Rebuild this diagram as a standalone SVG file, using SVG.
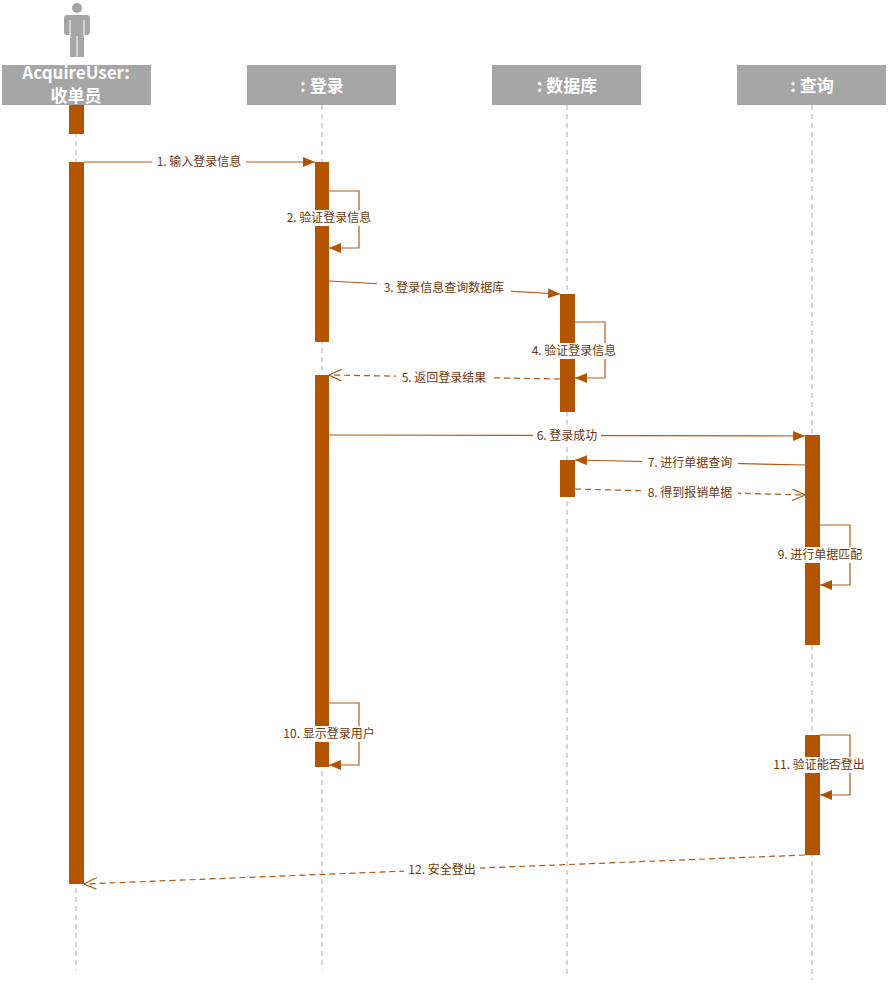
<svg xmlns="http://www.w3.org/2000/svg" width="889" height="1001" viewBox="0 0 889 1001">
<style>
.hdr{fill:#a6a6a6}
.ht{font-family:"Noto Sans CJK SC","Liberation Sans",sans-serif;font-size:17px;font-weight:bold;fill:#fff;text-anchor:middle}
.life{stroke:#b0b0b0;stroke-width:1;stroke-dasharray:5,4;fill:none}
.act{fill:#b35400}
.m{stroke:#b05a18;stroke-width:1.2;fill:none}
.d{stroke-dasharray:6,4}
.lb{font-family:"Noto Sans CJK SC","Liberation Sans",sans-serif;font-size:12px;fill:#6e3a12;text-anchor:middle}
.bg{fill:#fff}
</style>
<defs>
<marker id="f" markerWidth="12" markerHeight="10" refX="12" refY="5" orient="auto" markerUnits="userSpaceOnUse"><path d="M0,0L12,5L0,10Z" fill="#b35400"/></marker>
<marker id="o" markerWidth="13" markerHeight="12" refX="13" refY="6" orient="auto" markerUnits="userSpaceOnUse"><path d="M0,0L13,6L0,12" fill="none" stroke="#b05a18" stroke-width="1.2"/></marker>
</defs>
<g id="lifelines">
<line class="life" x1="76" y1="105" x2="76" y2="970"/>
<line class="life" x1="322" y1="105" x2="322" y2="970"/>
<line class="life" x1="567" y1="105" x2="567" y2="975"/>
<line class="life" x1="812" y1="105" x2="812" y2="980"/>
</g>
<g id="user">
<circle cx="77" cy="8" r="5" fill="#a6a6a6"/>
<rect x="64" y="15" width="26" height="20" rx="3" fill="#a6a6a6"/>
<rect x="70" y="15" width="14" height="42" fill="#a6a6a6"/>
<line x1="70" y1="20" x2="70" y2="38" stroke="#fff" stroke-width="1"/>
<line x1="84" y1="20" x2="84" y2="38" stroke="#fff" stroke-width="1"/>
<line x1="77" y1="36" x2="77" y2="57" stroke="#fff" stroke-width="1"/>
<rect class="hdr" x="2" y="65" width="149" height="40"/>
<text class="ht" x="76" y="79">AcquireUser:</text>
<text class="ht" x="76" y="102">收单员</text>
</g>
<g id="login"><rect class="hdr" x="247" y="65" width="149" height="40"/><text class="ht" x="322" y="92">: 登录</text></g>
<g id="db"><rect class="hdr" x="492" y="65" width="149" height="40"/><text class="ht" x="567" y="92">: 数据库</text></g>
<g id="query"><rect class="hdr" x="737" y="65" width="149" height="40"/><text class="ht" x="812" y="92">:  查询</text></g>
<g id="activations">
<rect class="act" x="69" y="105" width="15" height="29"/>
<rect class="act" x="69" y="162" width="15" height="722"/>
<rect class="act" x="315" y="162" width="14" height="180"/>
<rect class="act" x="315" y="375" width="14" height="392"/>
<rect class="act" x="560" y="294" width="15" height="118"/>
<rect class="act" x="560" y="460" width="15" height="37"/>
<rect class="act" x="805" y="435" width="15" height="210"/>
<rect class="act" x="805" y="735" width="15" height="120"/>
</g>
<g id="connectors">
<line class="m" x1="84" y1="162" x2="315" y2="162" marker-end="url(#f)"/>
<path class="m" d="M329,191H359V248H329" marker-end="url(#f)"/>
<line class="m" x1="329" y1="281" x2="560" y2="294" marker-end="url(#f)"/>
<path class="m" d="M575,322H605V378H575" marker-end="url(#f)"/>
<line class="m d" x1="560" y1="379" x2="329" y2="375" marker-end="url(#o)"/>
<line class="m" x1="329" y1="435" x2="805" y2="436" marker-end="url(#f)"/>
<line class="m" x1="805" y1="465" x2="575" y2="460" marker-end="url(#f)"/>
<line class="m d" x1="575" y1="489" x2="805" y2="495" marker-end="url(#o)"/>
<path class="m" d="M820,525H850V585H820" marker-end="url(#f)"/>
<path class="m" d="M329,703H359V765H329" marker-end="url(#f)"/>
<path class="m" d="M820,735H850V795H820" marker-end="url(#f)"/>
<line class="m d" x1="805" y1="855" x2="84" y2="884" marker-end="url(#o)"/>
</g>
<g id="labels">
<rect class="bg" x="152" y="154" width="94" height="15"/><text class="lb" x="199" y="166">1. 输入登录信息</text>
<rect class="bg" x="281" y="210" width="96" height="16"/><text class="lb" x="329" y="222">2. 验证登录信息</text>
<rect class="bg" x="377" y="280" width="134" height="15"/><text class="lb" x="444" y="292">3. 登录信息查询数据库</text>
<rect class="bg" x="526" y="343" width="96" height="16"/><text class="lb" x="574" y="355">4. 验证登录信息</text>
<rect class="bg" x="396" y="370" width="96" height="15"/><text class="lb" x="444" y="382">5. 返回登录结果</text>
<rect class="bg" x="533" y="428" width="68" height="15"/><text class="lb" x="567" y="440">6. 登录成功</text>
<rect class="bg" x="642" y="455" width="96" height="15"/><text class="lb" x="690" y="467">7. 进行单据查询</text>
<rect class="bg" x="642" y="485" width="96" height="15"/><text class="lb" x="690" y="497">8. 得到报销单据</text>
<rect class="bg" x="772" y="547" width="96" height="16"/><text class="lb" x="820" y="559">9. 进行单据匹配</text>
<rect class="bg" x="277" y="726" width="104" height="16"/><text class="lb" x="329" y="738">10. 显示登录用户</text>
<rect class="bg" x="767" y="757" width="104" height="16"/><text class="lb" x="819" y="769">11. 验证能否登出</text>
<rect class="bg" x="404" y="862" width="76" height="15"/><text class="lb" x="442" y="874">12. 安全登出</text>
</g>
</svg>
